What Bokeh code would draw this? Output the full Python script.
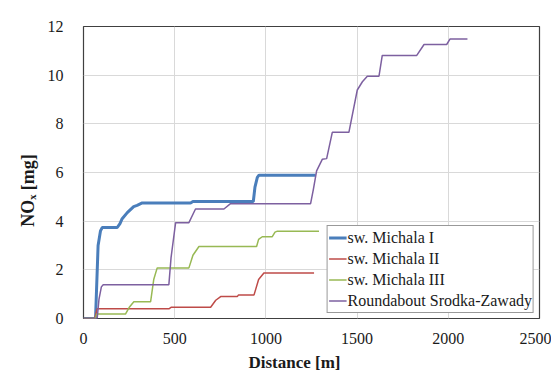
from bokeh.plotting import figure
from bokeh.models import Range1d, FixedTicker, Legend, LegendItem
from bokeh.embed import file_html
from bokeh.resources import INLINE

# ---- data (distance [m], NOx [mg]) ----
michala1_x = [0, 66, 80, 93, 103, 185, 200, 212, 240, 275, 294, 322, 587, 600, 931, 940, 953, 962, 1273]
michala1_y = [0, 0, 3.0, 3.6, 3.74, 3.74, 3.9, 4.1, 4.35, 4.6, 4.65, 4.75, 4.75, 4.81, 4.81, 5.4, 5.8, 5.89, 5.89]

michala2_x = [0, 62, 75, 468, 480, 697, 725, 752, 843, 850, 935, 960, 989, 1264]
michala2_y = [0, 0, 0.4, 0.4, 0.46, 0.46, 0.75, 0.9, 0.9, 0.97, 0.97, 1.6, 1.87, 1.87]

michala3_x = [0, 66, 72, 230, 250, 276, 368, 385, 404, 578, 600, 633, 949, 960, 980, 1035, 1050, 1063, 1291]
michala3_y = [0, 0, 0.18, 0.18, 0.45, 0.69, 0.69, 1.6, 2.08, 2.08, 2.6, 2.96, 2.96, 3.25, 3.36, 3.36, 3.55, 3.59, 3.59]

rond_x = [0, 75, 85, 98, 108, 468, 480, 505, 578, 614, 770, 806, 1245, 1260, 1278, 1309, 1333, 1364,
          1455, 1501, 1529, 1556, 1620, 1638, 1827, 1867, 1991, 2010, 2105]
rond_y = [0, 0, 0.8, 1.3, 1.39, 1.39, 2.5, 3.94, 3.94, 4.5, 4.5, 4.72, 4.72, 5.3, 6.07, 6.54, 6.57, 7.65,
          7.65, 9.39, 9.73, 9.96, 9.96, 10.81, 10.81, 11.26, 11.26, 11.49, 11.49]

series_names = ["sw. Michala I", "sw. Michala II", "sw. Michala III", "Roundabout Srodka-Zawady"]
x_ticks = [0, 500, 1000, 1500, 2000, 2500]
y_ticks = [0, 2, 4, 6, 8, 10, 12]

FONT = "Liberation Serif"
NBSP = "\u00a0"

p = figure(width=551, height=374, output_backend="svg", toolbar_location=None,
           x_range=Range1d(0, 2500), y_range=Range1d(0, 12),
           min_border_left=83, min_border_right=12, min_border_top=26, min_border_bottom=53)

p.outline_line_color = "#404040"
p.outline_line_width = 1.2
p.background_fill_color = "white"
p.border_fill_color = "white"

for g in (p.xgrid, p.ygrid):
    g.grid_line_color = "#d9d9d9"
    g.grid_line_width = 1

xax = p.xaxis[0]
yax = p.yaxis[0]
xax.ticker = FixedTicker(ticks=x_ticks)
yax.ticker = FixedTicker(ticks=y_ticks)

for ax in (xax, yax):
    ax.axis_line_color = None
    ax.major_tick_line_color = None
    ax.minor_tick_line_color = None
    ax.major_label_text_font = FONT
    ax.major_label_text_font_size = "16px"
    ax.major_label_text_color = "#1a1a1a"
    ax.axis_label_text_font = FONT
    ax.axis_label_text_font_style = "bold"
    ax.axis_label_text_color = "#1a1a1a"

# Excel places the titles slightly off-centre; trailing no-break spaces shift them
xax.axis_label = "Distance [m]" + NBSP * 8
yax.axis_label = "NO\u2093 [mg]" + NBSP * 8
xax.axis_label_text_font_size = "17px"
yax.axis_label_text_font_size = "18px"
xax.major_label_standoff = 8
xax.axis_label_standoff = 6
yax.major_label_standoff = 14
yax.axis_label_standoff = 7

r1 = p.line(michala1_x, michala1_y, line_color="#4a7ebb", line_width=3)
r2 = p.line(michala2_x, michala2_y, line_color="#be4b48", line_width=1.5)
r3 = p.line(michala3_x, michala3_y, line_color="#98b954", line_width=1.5)
r4 = p.line(rond_x, rond_y, line_color="#7d60a0", line_width=1.5)

legend = Legend(items=[LegendItem(label=n, renderers=[r]) for n, r in zip(series_names, [r1, r2, r3, r4])],
                location="bottom_right")
legend.label_text_font = FONT
legend.label_text_font_size = "16px"
legend.label_text_color = "#1a1a1a"
legend.glyph_width = 18
legend.glyph_height = 21
legend.label_height = 21
legend.label_standoff = 1
legend.spacing = 0
legend.padding = 1
legend.margin = 5
legend.border_line_color = "#333333"
legend.border_line_width = 1.2
legend.background_fill_alpha = 1
p.add_layout(legend)

open("out.html", "w").write(file_html(p, INLINE))
